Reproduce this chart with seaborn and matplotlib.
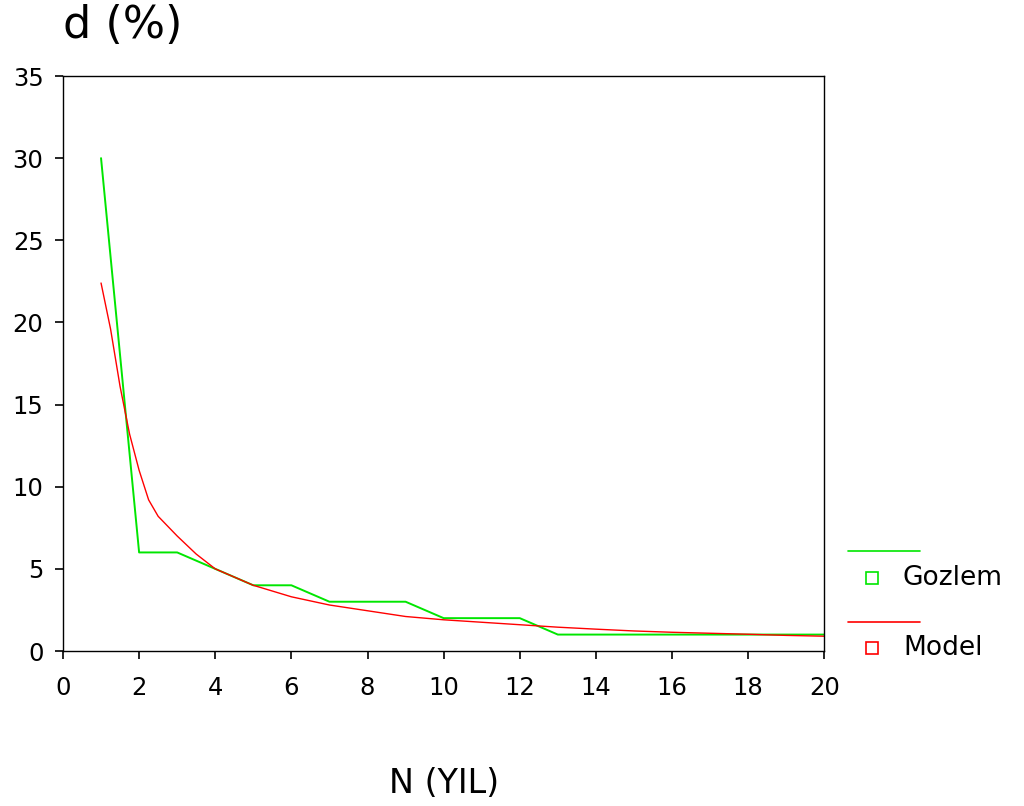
import matplotlib
matplotlib.use("Agg")
import matplotlib.pyplot as plt
import seaborn as sns
import pandas as pd
from matplotlib.lines import Line2D

# observed values (Gozlem)
n_obs = [1, 2, 3, 4, 5, 6, 7, 8, 9, 10, 11, 12, 13, 14, 15, 16, 17, 18, 19, 20]
d_obs = [30, 6, 6, 5, 4, 4, 3, 3, 3, 2, 2, 2, 1, 1, 1, 1, 1, 1, 1, 1]

# model curve
n_mod = [1, 1.25, 1.5, 1.75, 2, 2.25, 2.5, 2.75, 3, 3.5, 4, 4.5, 5, 6, 7, 8,
         9, 10, 11, 12, 13, 14, 15, 16, 17, 18, 19, 20]
d_mod = [22.4, 19.6, 16.1, 13.2, 11.0, 9.2, 8.2, 7.6, 7.0, 5.9, 5.0, 4.5, 4.0,
         3.3, 2.8, 2.45, 2.1, 1.9, 1.75, 1.6, 1.45, 1.33, 1.22, 1.14, 1.08,
         1.02, 0.95, 0.9]

green = "#00e600"
red = "#ff0000"

sns.set_style("ticks")
plt.rcParams["font.family"] = ["DejaVu Sans"]
plt.rcParams["text.color"] = "black"

obs = pd.DataFrame({"N": n_obs, "d": d_obs})
mod = pd.DataFrame({"N": n_mod, "d": d_mod})

fig = plt.figure(figsize=(10.24, 8.06), dpi=100)
ax = fig.add_axes([0.0615, 0.1923, 0.7435, 0.7134])

sns.lineplot(data=obs, x="N", y="d", ax=ax, color=green, linewidth=1.4)
sns.lineplot(data=mod, x="N", y="d", ax=ax, color=red, linewidth=1.0)

ax.set_xlim(0, 20)
ax.set_ylim(0, 35)
ax.set_xticks(range(0, 21, 2))
ax.set_yticks(range(0, 36, 5))
ax.set_xlabel("")
ax.set_ylabel("")
for s in ax.spines.values():
    s.set_visible(True)
    s.set_color("black")
    s.set_linewidth(1.0)
ax.tick_params(axis="both", direction="out", length=6, width=1.2,
               labelsize=17.5, colors="black")
ax.tick_params(axis="x", pad=12)
ax.tick_params(axis="y", pad=8)

fig.text(0.062, 0.968, "d (%)", fontsize=32, ha="left", va="center",
         color="black")
fig.text(0.434, 0.0285, "N (YIL)", fontsize=24, ha="center", va="center",
         color="black")

# legend drawn by hand to the right of the axes
def key(y_line, y_txt, col, label):
    fig.add_artist(Line2D([848 / 1024, 920 / 1024], [1 - y_line / 806] * 2,
                          color=col, linewidth=1.2, transform=fig.transFigure))
    fig.add_artist(Line2D([872 / 1024], [1 - y_txt / 806], marker="s",
                          markersize=8, markerfacecolor="none",
                          markeredgecolor=col, markeredgewidth=1.2,
                          linestyle="none", transform=fig.transFigure))
    fig.text(903 / 1024, 1 - y_txt / 806, label, fontsize=19,
             ha="left", va="center", color="black")

key(551, 578, green, "Gozlem")
key(622, 648, red, "Model")

fig.savefig("out.png", dpi=100)
